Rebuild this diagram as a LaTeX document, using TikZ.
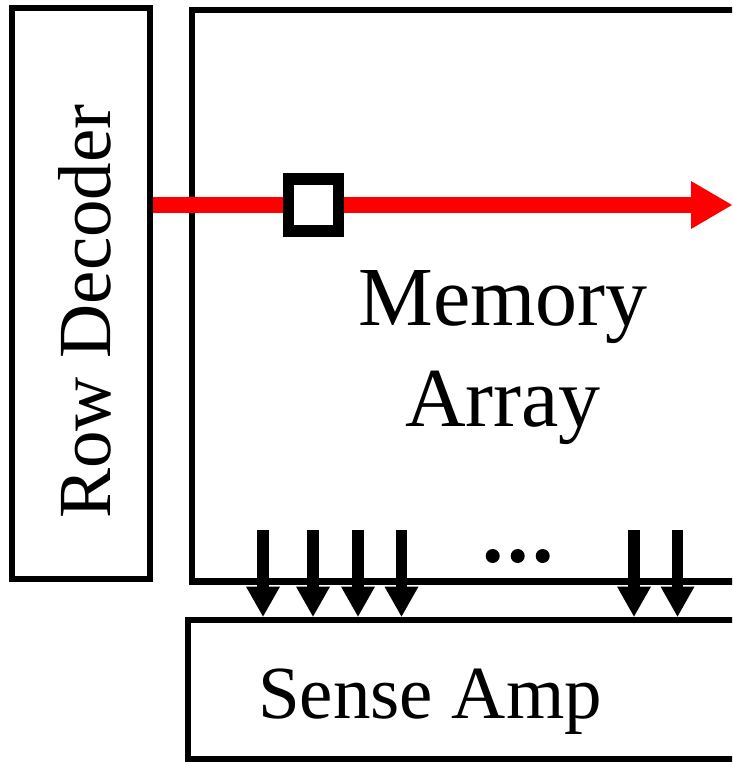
\documentclass[tikz,border=0pt]{standalone}
\usepackage{fontspec}
\setmainfont{Liberation Serif}
\usetikzlibrary{arrows.meta}
\begin{document}
\begin{tikzpicture}[x=1pt, y=-1pt,
    block/.style={shape=rectangle, draw, line width=6.3pt, inner sep=0pt},
    bitline/.style={line width=11.7pt, -{Triangle[length=30pt, width=34pt, line width=0pt]}},
    wordline/.style={draw=red, line width=16.7pt},
    bigtext/.style={font=\fontsize{75}{90}\selectfont}]
  \useasboundingbox (0,0) rectangle (732,762);
  \clip (0,0) rectangle (732,762);

  % blocks
  \node[block, minimum width=138pt, minimum height=571pt] (rowdec) at (80.7,293.5) {};
  \node[block, minimum width=600pt, minimum height=571.5pt] (array) at (491.7,295.75) {};
  \node[block, minimum width=600pt, minimum height=139.8pt] (senseamp) at (487.7,689.6) {};

  % labels
  \node[bigtext, rotate=90, anchor=base] (rowdectext) at (110,311.5) {Row Decoder};
  \node[font=\fontsize{84}{101}\selectfont, align=center] (arraytext) at (503,358) {Memory\\Array};
  \node[bigtext, anchor=base] (satext) at (430,718) {Sense Amp};

  % word line and cell
  \node[shape=rectangle, draw, fill=white, line width=11.7pt, minimum width=50pt, minimum height=52pt, inner sep=0pt] (cell) at (313.5,205) {};
  \coordinate (wlend) at (732,205);
  \draw[wordline] (rowdec.east |- cell) -- (cell.west);
  \draw[wordline, -{Triangle[length=41pt, width=48pt, line width=0pt]}] (cell.east) -- (wlend);

  % bit lines
  \foreach \x [count=\i] in {263,313,358,401.5,634,677.5} {
    \coordinate (bl\i) at (\x,530);
    \draw[bitline] (bl\i) -- (bl\i |- senseamp.north);
  }
  \foreach \x in {492.7,517.7,542.7}
    \fill (\x,556) circle (7pt);
\end{tikzpicture}
\end{document}
